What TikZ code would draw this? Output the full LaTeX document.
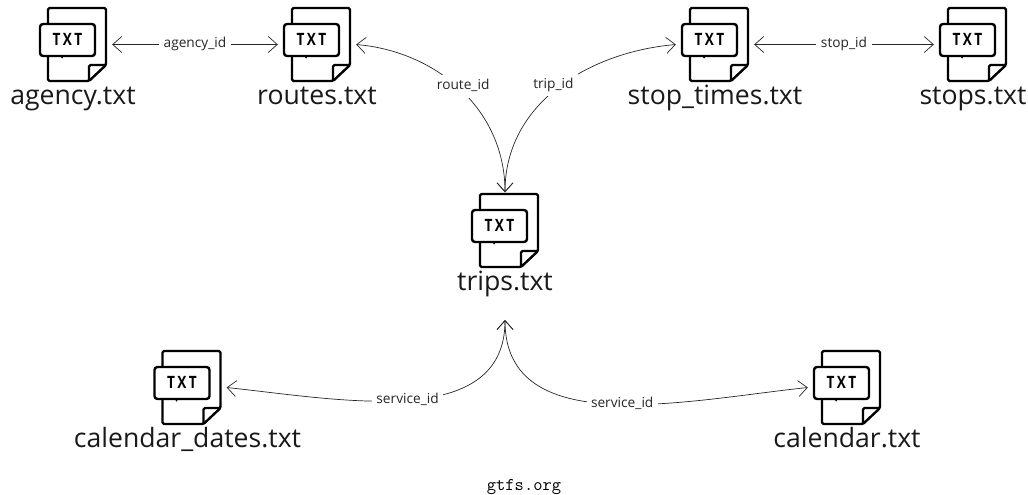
\documentclass[tikz,border=0pt]{standalone}
\usepackage{fontspec}
\setmainfont{Open Sans}
\newfontfamily\tagfont[LetterSpace=14,FakeStretch=0.8]{Open Sans}
\usetikzlibrary{arrows.meta}
\tikzset{
  filename/.style = {font=\fontsize{26.6}{26.6}\selectfont, text=black!90, inner sep=0pt, text height=19pt, text depth=6pt, label distance=3pt},
  fileicon/.style = {minimum width=78pt, minimum height=76pt, inner sep=0pt, path picture={
    \begin{scope}[shift={(path picture bounding box.center)}, line width=2.4pt, line join=round, rounded corners=1.5pt]
    \draw (-25,-20.5) -- (-25,-36.5) -- (33,-36.5) -- (33,20.5) -- (16,36.5) -- (-25,36.5) -- (-25,11.5);
    \draw (16,36.5) -- (16,20.5) -- (33,20.5);
    \draw [rounded corners=3pt] (-33,-20.5) rectangle (22,11.5);
    \draw [line width=1.5pt] (-25,12) -- (-17,12);
    \fill (-11,13) circle (1pt);
    \node [font=\tagfont\bfseries\fontsize{17}{17}\selectfont] at (-5.5,-5) {TXT};
    \end{scope}}},
  linkarrow/.style = {draw=black!85, line width=0.7pt, >={Straight Barb[length=9pt,width=16pt]}},
  linklabel/.style = {font=\fontsize{13.7}{13.7}\selectfont, fill=white, text=black!85, inner sep=4.5pt, text height=10pt, text depth=3.5pt},
}
\begin{document}
\begin{tikzpicture}[x=1pt, y=-1pt]
\useasboundingbox (0,0) rectangle (1028,495);
\node [fileicon, label={[filename]below:agency.txt}] (agency) at (73,44.5) {};
\node [fileicon, label={[filename]below:routes.txt}] (routes) at (317,44.5) {};
\node [fileicon, label={[filename]below:stop\_times.txt}] (stoptimes) at (715,44.5) {};
\node [fileicon, label={[filename]below:stops.txt}] (stops) at (973,44.5) {};
\node [fileicon, label={[filename]below:trips.txt}] (trips) at (505,230.5) {};
\node [fileicon, label={[filename]below:calendar\_dates.txt}] (dates) at (187.5,387.5) {};
\node [fileicon, label={[filename]below:calendar.txt}] (calendar) at (847,387.5) {};
\coordinate (tripsin) at (505,320);
% links
\draw [linkarrow, <->] (agency.east) -- node [linklabel] {agency\_id} (routes.west);
\draw [linkarrow, <->] (stoptimes.east) -- node [linklabel] {stop\_id} (stops.west);
\draw [linkarrow, <->] (trips.north) to [out=90, in=-5] node [linklabel, pos=0.5, xshift=2pt, yshift=4pt] {route\_id} (routes.east);
\draw [linkarrow, <->] (trips.north) to [out=90, in=185] node [linklabel, pos=0.5, xshift=-4pt, yshift=3pt] {trip\_id} (stoptimes.west);
\draw [linkarrow, <->] (tripsin) to [out=-90, in=-6] node [linklabel, pos=0.5] {service\_id} (dates.east);
\draw [linkarrow, <->] (tripsin) to [out=-90, in=186] node [linklabel, pos=0.53] {service\_id} (calendar.west);
\node (source) at (524,487) {\ttfamily\fontsize{18}{18}\selectfont gtfs.org};
\end{tikzpicture}
\end{document}
